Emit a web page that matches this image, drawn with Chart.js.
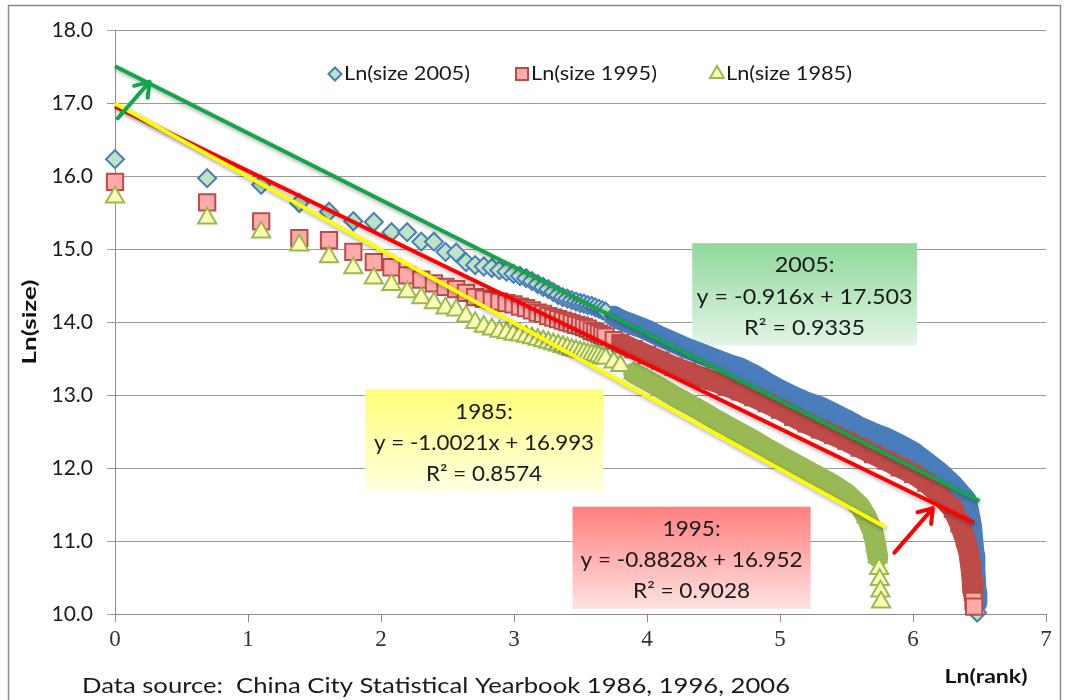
<!DOCTYPE html>
<html>
<head>
<meta charset="utf-8">
<script src="https://cdn.jsdelivr.net/npm/chart.js@4.4.1/dist/chart.umd.min.js"></script>
<style>
  html, body { margin: 0; padding: 0; background: #fff; }
  #wrap { width: 1067px; height: 700px; position: relative; }
</style>
</head>
<body>
<div id="wrap"><canvas id="zipf"></canvas></div>
<script>
    // ln(rang) des 40 premières villes (commun aux trois années)
    const lnRank = [0, 0.693, 1.099, 1.386, 1.609, 1.792, 1.946, 2.079, 2.197, 2.303,
        2.398, 2.485, 2.565, 2.639, 2.708, 2.773, 2.833, 2.890, 2.944, 2.996,
        3.045, 3.091, 3.135, 3.178, 3.219, 3.258, 3.296, 3.332, 3.367, 3.401,
        3.434, 3.466, 3.497, 3.526, 3.555, 3.584, 3.611, 3.638, 3.664, 3.689];

    // ln(taille) des 40 premières villes
    const size2005 = [16.23, 15.97, 15.88, 15.63, 15.51, 15.38, 15.37, 15.23, 15.23, 15.10,
        15.10, 14.96, 14.95, 14.82, 14.78, 14.76, 14.74, 14.71, 14.69, 14.66,
        14.63, 14.60, 14.56, 14.52, 14.48, 14.45, 14.41, 14.37, 14.34, 14.32,
        14.30, 14.28, 14.26, 14.25, 14.23, 14.22, 14.20, 14.18, 14.16, 14.14];
    const size1995 = [15.92, 15.64, 15.38, 15.15, 15.12, 14.96, 14.82, 14.75, 14.64, 14.58,
        14.53, 14.48, 14.45, 14.40, 14.34, 14.32, 14.30, 14.28, 14.26, 14.24,
        14.21, 14.19, 14.16, 14.13, 14.11, 14.08, 14.06, 14.04, 14.02, 14.00,
        13.98, 13.96, 13.95, 13.93, 13.91, 13.88, 13.86, 13.84, 13.82, 13.80];
    const size1985 = [15.71, 15.42, 15.23, 15.05, 14.89, 14.74, 14.60, 14.51, 14.41, 14.33,
        14.26, 14.19, 14.16, 14.08, 13.99, 13.94, 13.90, 13.87, 13.85, 13.83,
        13.82, 13.80, 13.78, 13.76, 13.74, 13.72, 13.70, 13.68, 13.66, 13.64,
        13.62, 13.61, 13.59, 13.58, 13.56, 13.55, 13.54, 13.53, 13.51, 13.50];

    // partie dense (villes moyennes et petites) : ln(rang) / ln(taille)
    const band2005X = [3.75, 3.8, 3.9, 4.0, 4.1, 4.2, 4.3, 4.4, 4.5, 4.6, 4.7, 4.8, 4.9, 5.0, 5.1, 5.2, 5.3, 5.4,
        5.5, 5.6, 5.7, 5.8, 5.9, 6.0, 6.1, 6.2, 6.3, 6.4, 6.42, 6.44, 6.45, 6.46, 6.465, 6.47, 6.475, 6.48, 6.482];
    const band2005Y = [14.08, 14.03, 13.96, 13.89, 13.80, 13.72, 13.64, 13.57, 13.50, 13.43, 13.37, 13.28, 13.17, 13.07,
        12.98, 12.90, 12.84, 12.75, 12.66, 12.56, 12.48, 12.41, 12.32, 12.22, 12.08, 11.94, 11.77, 11.56,
        11.40, 11.20, 11.00, 10.80, 10.60, 10.45, 10.30, 10.15, 10.02];
    const band1995X = [3.75, 3.8, 3.9, 4.0, 4.1, 4.2, 4.3, 4.4, 4.5, 4.6, 4.7, 4.8, 4.9, 5.0, 5.1, 5.2, 5.3, 5.4,
        5.5, 5.6, 5.7, 5.8, 5.9, 6.0, 6.1, 6.2, 6.3, 6.35, 6.39, 6.42, 6.435, 6.445, 6.45, 6.455, 6.46];
    const band1995Y = [13.75, 13.71, 13.63, 13.55, 13.47, 13.39, 13.32, 13.25, 13.19, 13.12, 13.05, 12.97, 12.89, 12.80,
        12.70, 12.61, 12.53, 12.45, 12.37, 12.28, 12.19, 12.10, 12.01, 11.92, 11.80, 11.64, 11.44,
        11.24, 11.04, 10.84, 10.64, 10.46, 10.30, 10.18, 10.10];
    const band1985X = [3.75, 3.8, 3.9, 4.0, 4.1, 4.2, 4.3, 4.4, 4.5, 4.6, 4.7, 4.8, 4.9, 5.0, 5.1, 5.2, 5.3, 5.4,
        5.5, 5.6, 5.65, 5.70, 5.72, 5.735, 5.745, 5.75, 5.755, 5.76];
    const band1985Y = [13.45, 13.40, 13.30, 13.20, 13.10, 12.99, 12.89, 12.79, 12.68, 12.58, 12.48, 12.38, 12.27, 12.17,
        12.07, 11.97, 11.87, 11.77, 11.65, 11.48, 11.33, 11.12, 10.95, 10.78, 10.62, 10.47, 10.31, 10.16];

    // droites de tendance (extrémités)
    const trend2005 = [[0, 17.503], [6.50, 11.549]];
    const trend1995 = [[0, 16.952], [6.46, 11.249]];
    const trend1985 = [[0, 16.993], [5.79, 11.191]];

    const seriesLabels = ['Ln(size 2005)', 'Ln(size 1995)', 'Ln(size 1985)'];
    const eqLabels = [
        ['2005:', 'y = -0.916x + 17.503', 'R\u00b2 = 0.9335'],
        ['1985:', 'y = -1.0021x + 16.993', 'R\u00b2 = 0.8574'],
        ['1995:', 'y = -0.8828x + 16.952', 'R\u00b2 = 0.9028']
    ];
    const sourceText = 'Data source:  China City Statistical Yearbook 1986, 1996, 2006';
    const xTitle = 'Ln(rank)';
    const yTitle = 'Ln(size)';

    // flèches (départ -> pointe) en coordonnées des axes
    const arrowFrom = [[0.02, 16.79], [5.86, 10.84]];
    const arrowTo = [[0.26, 17.29], [6.15, 11.45]];

    function toPoints(xs, ys) {
        return xs.map((x, i) => ({ x: x, y: ys[i] }));
    }

    // from = début de la bande pleine, minY = en dessous, marqueurs clairs (bas de la queue)
    const styles = {
        s2005: { shape: 'rectRot', radius: 9, dark: '#4a7ebb', light: '#bde4c3', from: 3.7, minY: 10.05 },
        s1995: { shape: 'rect', radius: 11.5, dark: '#be4b48', light: '#ffabab', from: 3.78, minY: 10.25 },
        s1985: { shape: 'triangle', radius: 10.5, dark: '#98b954', light: '#ffffb4', from: 3.85, minY: 10.75 }
    };

    function plein(st, x, y) {
        return x >= st.from && y >= st.minY;
    }

    // nuage de points + bande pleine pour la partie dense
    function nuage(label, pts, st, order) {
        return {
            label, data: pts, order, clip: false,
            showLine: true,
            borderColor: st.dark,
            borderWidth: 21,
            borderCapStyle: 'round',
            borderJoinStyle: 'round',
            tension: 0,
            segment: {
                borderColor: c => (c.p0.parsed.x >= st.from && plein(st, c.p1.parsed.x, c.p1.parsed.y)) ? st.dark : 'rgba(0,0,0,0)'
            },
            pointStyle: st.shape,
            pointRadius: st.radius,
            pointBorderWidth: 2,
            pointBorderColor: st.dark,
            pointBackgroundColor: c => (c.raw && plein(st, c.raw.x, c.raw.y)) ? st.dark : st.light
        };
    }

    function tendance(label, ends, color, order) {
        return {
            label, order, clip: false, trend: true,
            data: ends.map(p => ({ x: p[0], y: p[1] })),
            showLine: true,
            borderColor: color,
            borderWidth: 4,
            pointRadius: 0,
            tension: 0
        };
    }

    const boxes = [
        { x0: 4.34, y0: 15.08, x1: 6.03, y1: 13.68, top: '#8fd89b', bottom: '#e4f5e6', w: 216 },
        { x0: 1.88, y0: 13.08, x1: 3.67, y1: 11.67, top: '#ffff7a', bottom: '#ffffe2', w: 220 },
        { x0: 3.44, y0: 11.47, x1: 5.23, y1: 10.07, top: '#ff7f7f', bottom: '#ffe2e2', w: 222 }
    ];

    function fitText(c, text, x, y, width, align) {
        const w = c.measureText(text).width;
        c.save();
        c.translate(x, y);
        c.scale(width / w, 1);
        c.textAlign = align;
        c.fillText(text, 0, 0);
        c.restore();
    }

    function drawMarker(c, shape, x, y, r, dark, light) {
        c.beginPath();
        if (shape === 'rectRot') {
            c.moveTo(x - r, y); c.lineTo(x, y - r); c.lineTo(x + r, y); c.lineTo(x, y + r);
        } else if (shape === 'rect') {
            c.rect(x - r, y - r, 2 * r, 2 * r);
        } else {
            c.moveTo(x, y - r);
            c.lineTo(x + r * 0.866, y + r * 0.5);
            c.lineTo(x - r * 0.866, y + r * 0.5);
        }
        c.closePath();
        c.fillStyle = light;
        c.fill();
        c.lineWidth = 2;
        c.strokeStyle = dark;
        c.stroke();
    }

    const decor = {
        id: 'decor',
        beforeDatasetsDraw(chart) {
            // encadrés des équations (sous les points, au-dessus de la grille)
            const c = chart.ctx, sx = chart.scales.x, sy = chart.scales.y;
            boxes.forEach((b, i) => {
                const l = sx.getPixelForValue(b.x0), r = sx.getPixelForValue(b.x1);
                const t = sy.getPixelForValue(b.y0), bt = sy.getPixelForValue(b.y1);
                const g = c.createLinearGradient(0, t, 0, bt);
                g.addColorStop(0, b.top);
                g.addColorStop(1, b.bottom);
                c.fillStyle = g;
                c.fillRect(l, t, r - l, bt - t);
                c.fillStyle = '#1a1a1a';
                c.font = '21px Lato';
                c.textBaseline = 'middle';
                const ratio = b.w / c.measureText(eqLabels[i][1]).width;
                const h = bt - t, cx = (l + r) / 2;
                [0.22, 0.525, 0.83].forEach((f, k) => {
                    const txt = eqLabels[i][k];
                    fitText(c, txt, cx, t + f * h, c.measureText(txt).width * ratio, 'center');
                });
            });
        },
        beforeDatasetDraw(chart, args) {
            if (chart.data.datasets[args.index].trend) {
                const c = chart.ctx;
                c.save();
                c.shadowColor = 'rgba(0,0,0,0.35)';
                c.shadowBlur = 4;
                c.shadowOffsetX = 1;
                c.shadowOffsetY = 2;
            }
        },
        afterDatasetDraw(chart, args) {
            if (chart.data.datasets[args.index].trend) chart.ctx.restore();
        },
        afterDraw(chart) {
            const c = chart.ctx, sx = chart.scales.x, sy = chart.scales.y;

            // flèches
            const arrowColors = ['#12a64b', '#ff0000'];
            arrowFrom.forEach((p, i) => {
                const x0 = sx.getPixelForValue(p[0]), y0 = sy.getPixelForValue(p[1]);
                const x1 = sx.getPixelForValue(arrowTo[i][0]), y1 = sy.getPixelForValue(arrowTo[i][1]);
                const a = Math.atan2(y1 - y0, x1 - x0);
                c.save();
                c.strokeStyle = arrowColors[i];
                c.lineWidth = 4;
                c.lineCap = 'round';
                c.lineJoin = 'round';
                c.beginPath();
                c.moveTo(x0, y0); c.lineTo(x1, y1);
                c.moveTo(x1 - 16 * Math.cos(a - 0.6), y1 - 16 * Math.sin(a - 0.6));
                c.lineTo(x1, y1);
                c.lineTo(x1 - 16 * Math.cos(a + 0.6), y1 - 16 * Math.sin(a + 0.6));
                c.stroke();
                c.restore();
            });

            // légende dans la zone du graphique
            const legX = [335, 522, 717];
            const sts = [styles.s2005, styles.s1995, styles.s1985];
            const legR = [6.5, 6, 8];
            c.save();
            c.font = '19px Lato';
            c.textBaseline = 'middle';
            seriesLabels.forEach((lab, i) => {
                drawMarker(c, sts[i].shape, legX[i], 74, legR[i], sts[i].dark, sts[i].light);
                c.fillStyle = '#1a1a1a';
                fitText(c, lab, legX[i] + 9, 74, 126, 'left');
            });

            // titres des axes
            c.font = 'bold 19px Lato';
            c.fillStyle = '#111';
            fitText(c, xTitle, 986, 677, 83, 'center');
            c.save();
            c.translate(30, 322);
            c.rotate(-Math.PI / 2);
            fitText(c, yTitle, 0, 0, 85, 'center');
            c.restore();

            // source
            c.font = '21px Lato';
            c.textBaseline = 'alphabetic';
            c.fillStyle = '#1a1a1a';
            fitText(c, sourceText, 82, 693, 708, 'left');

            // cadre extérieur
            c.strokeStyle = '#8c8c8c';
            c.lineWidth = 1.5;
            c.strokeRect(8.5, 5.5, 1052, 760);
            c.restore();
        }
    };

    const chart = new Chart(document.getElementById('zipf').getContext('2d'), {
        type: 'scatter',
        data: {
            datasets: [
                tendance('trend1985', trend1985, '#ffff00', 1),
                tendance('trend1995', trend1995, '#ff0000', 2),
                tendance('trend2005', trend2005, '#12a64b', 3),
                nuage(seriesLabels[2], toPoints(lnRank.concat(band1985X), size1985.concat(band1985Y)), styles.s1985, 4),
                nuage(seriesLabels[1], toPoints(lnRank.concat(band1995X), size1995.concat(band1995Y)), styles.s1995, 5),
                nuage(seriesLabels[0], toPoints(lnRank.concat(band2005X), size2005.concat(band2005Y)), styles.s2005, 6)
            ]
        },
        options: {
            responsive: true,
            maintainAspectRatio: false,
            animation: false,
            layout: { padding: { left: 0, top: 30, right: 21, bottom: 0 } },
            plugins: {
                legend: { display: false },
                tooltip: { enabled: false }
            },
            scales: {
                x: {
                    type: 'linear',
                    min: 0, max: 7,
                    afterFit: s => { s.height = 86; },
                    ticks: {
                        stepSize: 1,
                        padding: 4,
                        color: '#333',
                        font: { family: 'Liberation Serif', size: 23 }
                    },
                    grid: { drawOnChartArea: false, drawTicks: true, tickLength: 8, color: '#8c8c8c' },
                    border: { display: true, color: '#8c8c8c', width: 1 }
                },
                y: {
                    type: 'linear',
                    min: 10, max: 18,
                    afterFit: s => { s.width = 115; },
                    ticks: {
                        stepSize: 1,
                        padding: 14,
                        color: '#1a1a1a',
                        font: { family: 'Lato', size: 21 },
                        callback: v => v.toFixed(1)
                    },
                    grid: { color: '#9a9a9a', tickLength: 8 },
                    border: { display: true, color: '#8c8c8c', width: 1 }
                }
            }
        },
        plugins: [decor]
    });
</script>
</body>
</html>
